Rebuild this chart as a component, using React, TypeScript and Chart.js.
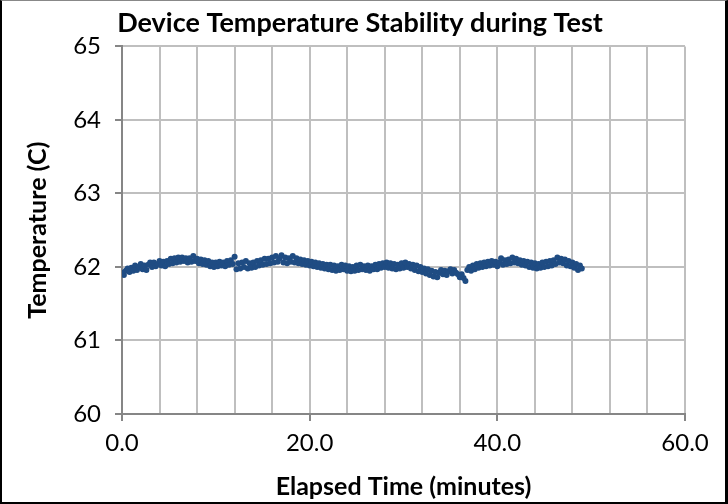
import React, { useEffect, useRef } from "react";
import { Chart, registerables } from "chart.js";

Chart.register(...registerables);

const chartTitle = "Device Temperature Stability during Test";
const xAxisTitle = "Elapsed Time (minutes)";
const yAxisTitle = "Temperature (C)";

// sampling interval of the logged readings (minutes)
const sampleIntervalMin = 0.2;

// temperature readings (°C), one per sample
const temperatures: number[] = [
  61.92, 61.89, 61.95, 61.98, 61.93,
  61.99, 61.95, 62.02, 61.96, 62.00,
  62.04, 61.97, 62.02, 61.96, 62.03,
  62.06, 62.00, 62.06, 62.01, 62.04,
  62.08, 62.02, 62.07, 62.01, 62.08,
  62.04, 62.11, 62.05, 62.12, 62.06,
  62.13, 62.07, 62.13, 62.08, 62.12,
  62.06, 62.12, 62.07, 62.15, 62.08,
  62.11, 62.05, 62.10, 62.04, 62.09,
  62.03, 62.08, 62.01, 62.06, 62.00,
  62.06, 62.01, 62.07, 62.02, 62.06,
  62.01, 62.08, 62.03, 62.09, 62.04,
  62.14, 61.97, 62.05, 61.98, 62.06,
  62.00, 62.08, 61.98, 62.05, 61.99,
  62.06, 62.00, 62.08, 62.02, 62.09,
  62.03, 62.11, 62.04, 62.11, 62.05,
  62.13, 62.06, 62.15, 62.07, 62.12,
  62.16, 62.06, 62.13, 62.05, 62.12,
  62.07, 62.15, 62.06, 62.12, 62.05,
  62.10, 62.04, 62.09, 62.03, 62.08,
  62.02, 62.07, 62.01, 62.06, 62.00,
  62.05, 61.99, 62.04, 61.98, 62.03,
  61.97, 62.03, 61.96, 62.02, 61.95,
  62.01, 61.96, 62.03, 61.97, 62.02,
  61.95, 62.01, 61.94, 62.00, 61.95,
  62.02, 61.96, 62.03, 61.97, 62.01,
  61.96, 62.02, 61.95, 62.01, 61.97,
  62.03, 61.97, 62.04, 61.99, 62.05,
  62.00, 62.06, 61.99, 62.05, 61.98,
  62.04, 61.97, 62.03, 61.98, 62.05,
  61.99, 62.06, 62.00, 62.04, 61.98,
  62.03, 61.96, 62.02, 61.94, 62.00,
  61.93, 61.98, 61.91, 61.97, 61.89,
  61.95, 61.87, 61.93, 61.86, 61.92,
  61.96, 61.90, 61.95, 61.89, 61.94,
  61.97, 61.91, 61.96, 61.92, 61.90,
  61.86, 61.90, 61.85, 61.81, 61.96,
  62.00, 61.95, 62.02, 61.97, 62.04,
  61.99, 62.05, 62.00, 62.06, 62.01,
  62.07, 62.02, 62.08, 62.03, 62.07,
  62.01, 62.06, 62.12, 62.03, 62.09,
  62.04, 62.10, 62.05, 62.13, 62.06,
  62.11, 62.05, 62.09, 62.03, 62.08,
  62.02, 62.07, 62.00, 62.06, 61.99,
  62.05, 61.98, 62.04, 61.99, 62.06,
  62.00, 62.07, 62.01, 62.08, 62.02,
  62.09, 62.04, 62.13, 62.06, 62.11,
  62.05, 62.10, 62.02, 62.08, 62.01,
  62.06, 61.99, 62.04, 61.96, 62.02,
  61.98,
];

const xMin = 0;
const xMax = 60;
const xGridStep = 4;
const xLabelStep = 20;
const yMin = 60;
const yMax = 65;
const yStep = 1;

const FONT = "Lato, 'Open Sans', sans-serif";

export default function App() {
  const canvasRef = useRef<HTMLCanvasElement | null>(null);

  useEffect(() => {
    document.body.style.margin = "0";
    const canvas = canvasRef.current;
    if (!canvas) return;
    const points = temperatures.map((t, i) => ({ x: i * sampleIntervalMin, y: t }));
    const chart = new Chart(canvas, {
      type: "scatter",
      data: {
        datasets: [
          {
            data: points,
            backgroundColor: "#1f4c83",
            borderColor: "#1f4c83",
            pointRadius: 3,
            pointBorderWidth: 0,
            showLine: false,
          },
        ],
      },
      options: {
        animation: false,
        responsive: false,
        maintainAspectRatio: false,
        layout: { padding: { left: 0, right: 7, top: 0, bottom: 0 } },
        plugins: {
          legend: { display: false },
          tooltip: { enabled: false },
          title: {
            display: true,
            text: chartTitle,
            color: "#000",
            font: { family: FONT, size: 27, weight: "bold" },
            padding: { top: 6, bottom: 7 },
          },
        },
        scales: {
          x: {
            type: "linear",
            min: xMin,
            max: xMax,
            afterFit: (s: any) => {
              s.height = 88;
            },
            ticks: {
              stepSize: xGridStep,
              autoSkip: false,
              maxRotation: 0,
              color: "#000",
              font: { family: FONT, size: 24 },
              padding: 8,
              callback: (v: any) =>
                Number(v) % xLabelStep === 0 ? Number(v).toFixed(1) : "",
            },
            grid: {
              color: "#bfbfbf",
              lineWidth: 2,
              tickLength: 7,
              tickWidth: 2,
              tickColor: (ctx: any) =>
                ctx.tick && ctx.tick.value % xLabelStep === 0 ? "#868686" : "rgba(0,0,0,0)",
            },
            border: { color: "#868686", width: 2 },
            title: {
              display: true,
              text: xAxisTitle,
              color: "#000",
              font: { family: FONT, size: 25, weight: "bold" },
              padding: { top: 0, bottom: 0 },
            },
          },
          y: {
            type: "linear",
            min: yMin,
            max: yMax,
            afterFit: (s: any) => {
              s.width = 120;
            },
            ticks: {
              stepSize: yStep,
              color: "#000",
              font: { family: FONT, size: 24 },
              padding: 14,
            },
            grid: {
              color: "#bfbfbf",
              lineWidth: 2,
              tickLength: 7,
              tickWidth: 2,
              tickColor: "#868686",
            },
            border: { color: "#868686", width: 2 },
            title: {
              display: true,
              text: yAxisTitle,
              color: "#000",
              font: { family: FONT, size: 25, weight: "bold" },
              padding: { top: 21, bottom: 0 },
            },
          },
          spacer: {
            type: "linear",
            position: "right",
            display: true,
            afterFit: (s: any) => {
              s.width = 33;
            },
            ticks: { display: false },
            grid: { display: false, drawTicks: false },
            border: { display: false },
          },
        },
      },
    });
    return () => chart.destroy();
  }, []);

  return (
    <div
      style={{
        position: "absolute",
        left: 0,
        top: 0,
        width: 728,
        height: 504,
        boxSizing: "border-box",
        borderLeft: "2px solid #000",
        borderRight: "3px solid #000",
        borderBottom: "2px solid #000",
        borderTop: "1px solid #888",
        background: "#fff",
      }}
    >
      <canvas ref={canvasRef} width={723} height={501} style={{ display: "block" }} />
    </div>
  );
}
